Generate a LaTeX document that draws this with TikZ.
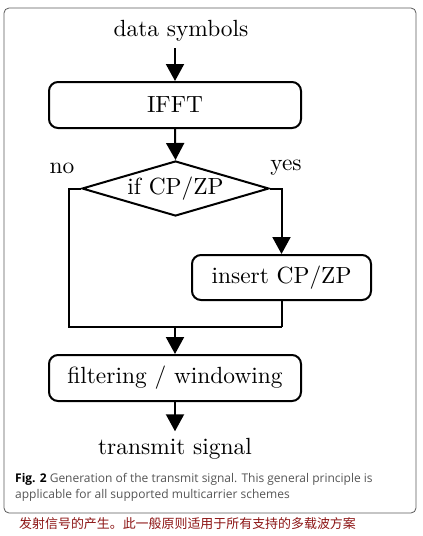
\documentclass[tikz,border=0pt]{standalone}
\usepackage{fontspec}
\setmainfont{lmroman10}[Extension=.otf,UprightFont=*-regular,BoldFont=*-bold]
\newfontfamily\capfont{Open Sans}
\newfontfamily\cjk{Noto Sans CJK SC}
\usetikzlibrary{shapes.geometric,arrows.meta}
\definecolor{capgray}{RGB}{85,85,85}
\definecolor{cnred}{RGB}{140,20,20}
\definecolor{framegray}{RGB}{90,90,90}
\begin{document}
\begin{tikzpicture}[x=1pt,y=-1pt,
  mainfont/.style={font=\fontsize{23.4}{28}\selectfont},
  box/.style={draw,line width=2pt,rounded corners=9pt,minimum width=252pt,minimum height=46pt,inner sep=0pt,mainfont},
  dec/.style={draw,line width=2pt,diamond,minimum width=187pt,minimum height=55pt,inner sep=0pt,aspect=3.4,mainfont},
  lbl/.style={inner sep=7pt,mainfont},
  ln/.style={line width=2pt},
  arr/.style={line width=2pt,-{Triangle[length=17pt,width=18pt]}},
  captxt/.style={anchor=base west,inner sep=0pt,font=\capfont\fontsize{12}{16}\selectfont,text=capgray},
  cntxt/.style={anchor=base west,inner sep=0pt,font=\cjk\fontsize{12.95}{15}\selectfont,text=cnred}]
\useasboundingbox (0,0) rectangle (423,536);
\draw[framegray,line width=0.8pt,rounded corners=5pt] (4,8) rectangle (416,513);

\node[lbl] (ds) at (181,30.5) {data symbols};
\node[box] (ifft) at (175,105) {IFFT};
\node[dec] (dec) at (175.5,188.5) {if CP/ZP};
\node[mainfont,inner sep=0pt] (no) at (62,168) {no};
\node[mainfont,inner sep=0pt] (yes) at (286,168) {yes};
\node[box,minimum width=179pt,minimum height=45pt] (ins) at (281.5,277.5) {insert CP/ZP};
\node[box] (filt) at (175,378) {filtering / windowing};
\node[lbl] (ts) at (175,449) {transmit signal};
\coordinate (jl) at (69,327);
\coordinate (jr) at (281.5,327);
\coordinate (jc) at (175,327);

\draw[arr] (ifft.north |- ds.south) -- (ifft.north);
\draw[arr] (ifft.south) -- (dec.north);
\draw[ln] (dec.west) -| (jl) -- (jr);
\draw[arr] (dec.east) -| (ins.north);
\draw[ln] (ins.south) -- (jr);
\draw[arr] (jc) -- (filt.north);
\draw[arr] (filt.south) -- (ts.north);

\node[captxt] (c1) at (15,482) {\textcolor{black}{\bfseries Fig. 2} Generation of the transmit signal. This general principle is};
\node[captxt] (c2) at (15,498) {applicable for all supported multicarrier schemes};
\node[cntxt] (zh) at (19,528.5) {发射信号的产生。此一般原则适用于所有支持的多载波方案};
\end{tikzpicture}
\end{document}
